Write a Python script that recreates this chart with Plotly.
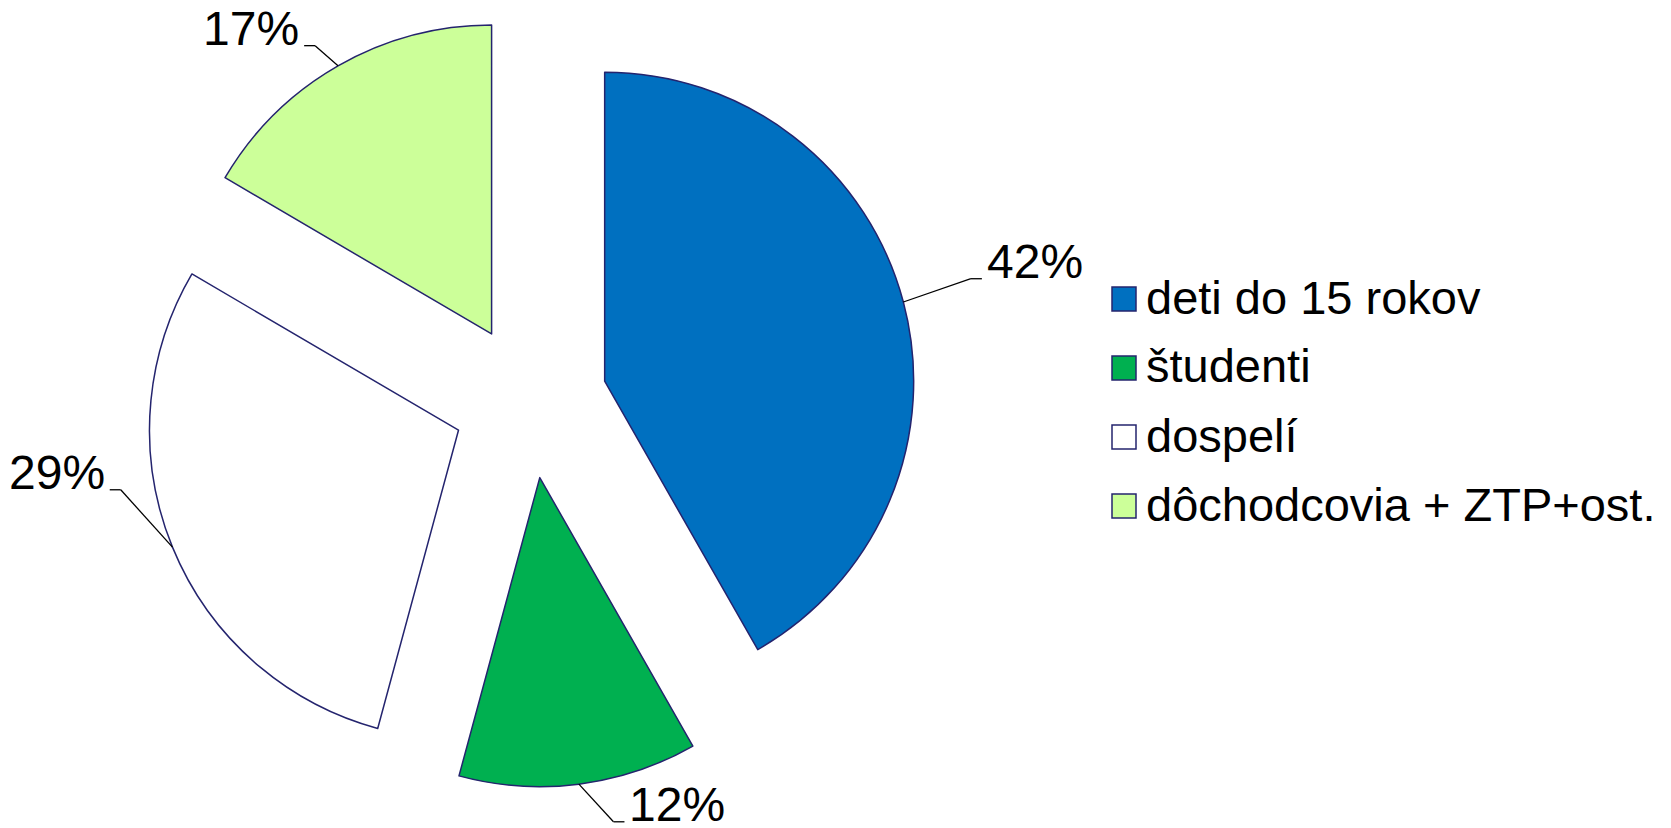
import math
import plotly.graph_objects as go

# ---- data ----
categories = ["deti do 15 rokov", "študenti", "dospelí", "dôchodcovia + ZTP+ost."]
values = [41.75, 12.46, 29.23, 16.56]   # shares

# ---- style ----
colors = ["#0070C0", "#00B050", "#FFFFFF", "#CCFF99"]
outline = "#24246E"
FONT = "Arial, Liberation Sans, sans-serif"
W, H = 1671, 828
PIE_CX, PIE_CY, PIE_R, PULL = 530, 401, 309, 0.25
LEADER = 44          # leader length beyond slice edge (px)
TAIL = 11            # horizontal tail of leader (px)
LABEL_NUDGE = [(25, -12), (29, -6), (-11, -74), (-1, 18)]  # label placement tweaks (px)
LABEL_SIZE = 48
LEG_X, LEG_Y0, LEG_DY, LEG_BOX, LEG_SIZE = 1112, 299, 69, 24, 47

ext = PIE_R * (1 + PULL)
dom_x = [(PIE_CX - ext) / W, (PIE_CX + ext) / W]
dom_y = [1 - (PIE_CY + ext) / H, 1 - (PIE_CY - ext) / H]


def px(x):
    return x / W


def py(y):
    return 1 - y / H


fig = go.Figure(go.Pie(
    labels=categories, values=values, sort=False, direction="clockwise", rotation=0,
    pull=PULL, marker=dict(colors=colors, line=dict(color=outline, width=1.5)),
    textinfo="none", hoverinfo="label+percent", showlegend=False,
    domain=dict(x=dom_x, y=dom_y),
))

shapes, annotations = [], []
total = sum(values)
cum = 0.0
for i, v in enumerate(values):
    mid = (cum + v / 2) / total * 2 * math.pi
    cum += v
    dx, dy = math.sin(mid), -math.cos(mid)
    ex, ey = PIE_CX + ext * dx, PIE_CY + ext * dy
    nx, ny = LABEL_NUDGE[i]
    bx, by = PIE_CX + (ext + LEADER) * dx + nx, PIE_CY + (ext + LEADER) * dy + ny
    side = 1 if dx >= 0 else -1
    tx = bx + side * TAIL
    shapes.append(dict(type="line", xref="paper", yref="paper", x0=px(ex), y0=py(ey),
                       x1=px(bx), y1=py(by), line=dict(color="black", width=1.3)))
    shapes.append(dict(type="line", xref="paper", yref="paper", x0=px(bx), y0=py(by),
                       x1=px(tx), y1=py(by), line=dict(color="black", width=1.3)))
    pct = f"{round(v / total * 100)}%"
    annotations.append(dict(text=pct, xref="paper", yref="paper", x=px(tx + side * 3),
                            y=py(by - 17), xanchor="left" if side > 0 else "right",
                            yanchor="middle", showarrow=False,
                            font=dict(family=FONT, size=LABEL_SIZE, color="black")))

# custom legend
for i, (cat, col) in enumerate(zip(categories, colors)):
    cy = LEG_Y0 + i * LEG_DY
    shapes.append(dict(type="rect", xref="paper", yref="paper",
                       x0=px(LEG_X), x1=px(LEG_X + LEG_BOX),
                       y0=py(cy + LEG_BOX / 2), y1=py(cy - LEG_BOX / 2),
                       fillcolor=col, line=dict(color=outline, width=1.5)))
    annotations.append(dict(text=cat, xref="paper", yref="paper", x=px(LEG_X + LEG_BOX + 8),
                            y=py(cy - 2), xanchor="left", yanchor="middle", showarrow=False,
                            font=dict(family=FONT, size=LEG_SIZE, color="black")))

fig.update_layout(
    width=W, height=H, margin=dict(l=0, r=0, t=0, b=0),
    paper_bgcolor="white", plot_bgcolor="white",
    shapes=shapes, annotations=annotations,
    font=dict(family=FONT),
)

fig.write_html("out.html", config={"displayModeBar": False},
               post_script="document.body.style.margin='0';document.body.style.overflow='hidden';")
